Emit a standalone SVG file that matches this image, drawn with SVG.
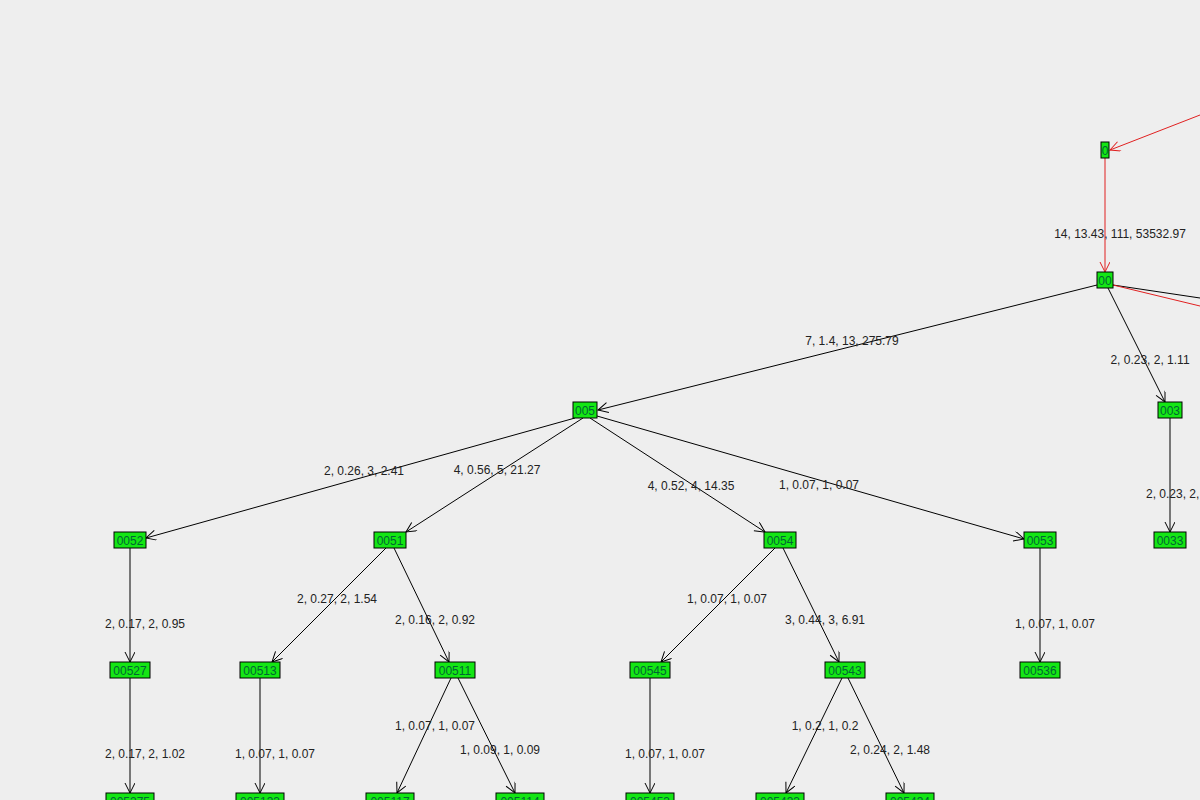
<svg xmlns="http://www.w3.org/2000/svg" width="1200" height="800" viewBox="0 0 1200 800">
<defs>
<marker id="a" markerUnits="userSpaceOnUse" markerWidth="12" markerHeight="12" refX="11" refY="5" orient="auto"><path d="M1,0 L11,5 L1,10" fill="none" stroke="#000" stroke-width="1"/></marker>
<marker id="r" markerUnits="userSpaceOnUse" markerWidth="12" markerHeight="12" refX="11" refY="5" orient="auto"><path d="M1,0 L11,5 L1,10" fill="none" stroke="#e02020" stroke-width="1"/></marker>
</defs>
<style>
.n rect{fill:#14e614;stroke:#000;stroke-width:1}
.n text,.l{font-family:"Liberation Sans",Arial,sans-serif;font-size:12px;fill:#222;text-anchor:middle}
.n text{fill:#063}
.e line{stroke:#000;stroke-width:1;marker-end:url(#a)}
.e line.red{stroke:#e02020;marker-end:url(#r)}
.e line.nm{marker-end:none}
</style>
<rect width="1200" height="800" fill="#eeeeee"/>
<g id="connectors" class="e">
<line class="red" x1="1200" y1="115" x2="1110" y2="150"/>
<line class="red" x1="1105" y1="158" x2="1105" y2="272"/>
<line class="nm" x1="1113" y1="285" x2="1200" y2="298"/>
<line class="red nm" x1="1113" y1="285" x2="1200" y2="306"/>
<line x1="1097" y1="285" x2="598" y2="410"/>
<line x1="1108" y1="288" x2="1165" y2="402"/>
<line x1="1170" y1="418" x2="1170" y2="532"/>
<line x1="575" y1="418" x2="146" y2="538"/>
<line x1="583" y1="418" x2="406" y2="532"/>
<line x1="590" y1="418" x2="765" y2="532"/>
<line x1="597" y1="416" x2="1024" y2="539"/>
<line x1="130" y1="548" x2="130" y2="662"/>
<line x1="386" y1="548" x2="272" y2="662"/>
<line x1="394" y1="548" x2="449" y2="662"/>
<line x1="775" y1="548" x2="661" y2="662"/>
<line x1="783" y1="548" x2="839" y2="662"/>
<line x1="1040" y1="548" x2="1040" y2="662"/>
<line x1="130" y1="678" x2="130" y2="793"/>
<line x1="260" y1="678" x2="260" y2="793"/>
<line x1="451" y1="678" x2="397" y2="793"/>
<line x1="458" y1="678" x2="515" y2="793"/>
<line x1="650" y1="678" x2="650" y2="793"/>
<line x1="842" y1="678" x2="786" y2="793"/>
<line x1="848" y1="678" x2="904" y2="793"/>
</g>
<g id="labels">
<text class="l" x="1120" y="238">14, 13.43, 111, 53532.97</text>
<text class="l" x="852" y="345">7, 1.4, 13, 275.79</text>
<text class="l" x="1150" y="364">2, 0.23, 2, 1.11</text>
<text class="l" x="1146" y="498" style="text-anchor:start">2, 0.23, 2, 1.11</text>
<text class="l" x="364" y="475">2, 0.26, 3, 2.41</text>
<text class="l" x="497" y="474">4, 0.56, 5, 21.27</text>
<text class="l" x="691" y="490">4, 0.52, 4, 14.35</text>
<text class="l" x="819" y="489">1, 0.07, 1, 0.07</text>
<text class="l" x="145" y="628">2, 0.17, 2, 0.95</text>
<text class="l" x="337" y="603">2, 0.27, 2, 1.54</text>
<text class="l" x="435" y="624">2, 0.16, 2, 0.92</text>
<text class="l" x="727" y="603">1, 0.07, 1, 0.07</text>
<text class="l" x="825" y="624">3, 0.44, 3, 6.91</text>
<text class="l" x="1055" y="628">1, 0.07, 1, 0.07</text>
<text class="l" x="145" y="758">2, 0.17, 2, 1.02</text>
<text class="l" x="275" y="758">1, 0.07, 1, 0.07</text>
<text class="l" x="435" y="730">1, 0.07, 1, 0.07</text>
<text class="l" x="500" y="754">1, 0.09, 1, 0.09</text>
<text class="l" x="665" y="758">1, 0.07, 1, 0.07</text>
<text class="l" x="825" y="730">1, 0.2, 1, 0.2</text>
<text class="l" x="890" y="754">2, 0.24, 2, 1.48</text>
</g>
<g id="n0" class="n"><rect x="1101" y="142" width="8" height="16"/><text x="1105" y="155">0</text></g>
<g id="n00" class="n"><rect x="1097" y="272" width="16" height="16"/><text x="1105" y="285">00</text></g>
<g id="n003" class="n"><rect x="1158" y="402" width="24" height="16"/><text x="1170" y="415">003</text></g>
<g id="n0033" class="n"><rect x="1154" y="532" width="32" height="16"/><text x="1170" y="545">0033</text></g>
<g id="n005" class="n"><rect x="573" y="402" width="24" height="16"/><text x="585" y="415">005</text></g>
<g id="n0052" class="n"><rect x="114" y="532" width="32" height="16"/><text x="130" y="545">0052</text></g>
<g id="n0051" class="n"><rect x="374" y="532" width="32" height="16"/><text x="390" y="545">0051</text></g>
<g id="n0054" class="n"><rect x="764" y="532" width="32" height="16"/><text x="780" y="545">0054</text></g>
<g id="n0053" class="n"><rect x="1024" y="532" width="32" height="16"/><text x="1040" y="545">0053</text></g>
<g id="n00527" class="n"><rect x="110" y="662" width="40" height="16"/><text x="130" y="675">00527</text></g>
<g id="n00513" class="n"><rect x="240" y="662" width="40" height="16"/><text x="260" y="675">00513</text></g>
<g id="n00511" class="n"><rect x="435" y="662" width="40" height="16"/><text x="455" y="675">00511</text></g>
<g id="n00545" class="n"><rect x="630" y="662" width="40" height="16"/><text x="650" y="675">00545</text></g>
<g id="n00543" class="n"><rect x="825" y="662" width="40" height="16"/><text x="845" y="675">00543</text></g>
<g id="n00536" class="n"><rect x="1020" y="662" width="40" height="16"/><text x="1040" y="675">00536</text></g>
<g id="n005275" class="n"><rect x="106" y="793" width="48" height="16"/><text x="130" y="806">005275</text></g>
<g id="n005133" class="n"><rect x="236" y="793" width="48" height="16"/><text x="260" y="806">005133</text></g>
<g id="n005117" class="n"><rect x="366" y="793" width="48" height="16"/><text x="390" y="806">005117</text></g>
<g id="n005114" class="n"><rect x="496" y="793" width="48" height="16"/><text x="520" y="806">005114</text></g>
<g id="n005453" class="n"><rect x="626" y="793" width="48" height="16"/><text x="650" y="806">005453</text></g>
<g id="n005433" class="n"><rect x="756" y="793" width="48" height="16"/><text x="780" y="806">005433</text></g>
<g id="n005434" class="n"><rect x="886" y="793" width="48" height="16"/><text x="910" y="806">005434</text></g>
</svg>
